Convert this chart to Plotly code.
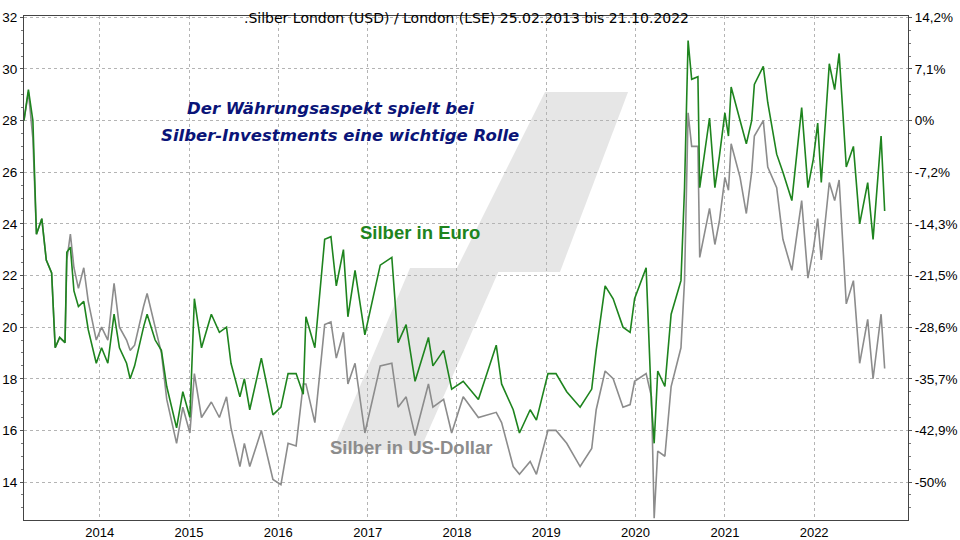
import plotly.graph_objects as go
import pandas as pd

jahre = [2013.15, 2013.20, 2013.25, 2013.29, 2013.35, 2013.40, 2013.46, 2013.50, 2013.55, 2013.61,
         2013.63, 2013.67, 2013.71, 2013.76, 2013.82, 2013.87, 2013.96, 2014.02, 2014.09, 2014.16,
         2014.22, 2014.30, 2014.34, 2014.39, 2014.49, 2014.53, 2014.62, 2014.69, 2014.75, 2014.86,
         2014.93, 2015.01, 2015.06, 2015.14, 2015.25, 2015.34, 2015.42, 2015.47, 2015.57, 2015.62,
         2015.68, 2015.81, 2015.94, 2016.03, 2016.11, 2016.20, 2016.28, 2016.31, 2016.41, 2016.52,
         2016.59, 2016.65, 2016.73, 2016.78, 2016.86, 2016.97, 2017.14, 2017.27, 2017.34, 2017.43,
         2017.53, 2017.68, 2017.73, 2017.85, 2017.94, 2018.07, 2018.24, 2018.44, 2018.50, 2018.63,
         2018.70, 2018.82, 2018.89, 2019.02, 2019.11, 2019.23, 2019.38, 2019.51, 2019.56, 2019.66,
         2019.75, 2019.86, 2019.94, 2019.99, 2020.12, 2020.18, 2020.21, 2020.25, 2020.33, 2020.40,
         2020.51, 2020.55, 2020.59, 2020.63, 2020.70, 2020.72, 2020.83, 2020.89, 2020.94, 2021.00,
         2021.04, 2021.07, 2021.17, 2021.24, 2021.30, 2021.33, 2021.43, 2021.48, 2021.58, 2021.65,
         2021.75, 2021.86, 2021.93, 2021.99, 2022.04, 2022.08, 2022.17, 2022.23, 2022.28, 2022.36,
         2022.44, 2022.51, 2022.60, 2022.66, 2022.75, 2022.79]

silber_euro = [28.0, 29.2, 28.0, 23.6, 24.2, 22.6, 22.1, 19.2, 19.6, 19.4,
               22.9, 23.1, 21.4, 20.8, 21.0, 19.9, 18.6, 19.2, 18.6, 20.5,
               19.2, 18.6, 18.0, 18.5, 20.0, 20.5, 19.5, 19.1, 17.7, 16.1,
               17.5, 16.5, 21.1, 19.2, 20.5, 19.8, 20.0, 18.6, 17.3, 18.0,
               16.8, 18.8, 16.6, 16.9, 18.2, 18.2, 17.4, 20.4, 19.2, 23.4,
               23.5, 21.6, 23.0, 20.4, 22.2, 19.7, 22.4, 22.7, 19.4, 20.1,
               17.9, 19.6, 18.5, 19.1, 17.6, 17.9, 17.2, 19.3, 17.8, 16.8,
               15.9, 16.8, 16.4, 18.2, 18.2, 17.5, 16.9, 17.6, 19.1, 21.6,
               21.1, 20.0, 19.8, 21.1, 22.3, 17.0, 15.5, 18.3, 17.7, 20.5,
               21.8, 25.4, 31.1, 29.6, 29.7, 25.4, 28.1, 25.4, 26.6, 28.3,
               27.4, 29.3, 28.0, 27.1, 28.0, 29.4, 30.1, 28.7, 26.7, 26.0,
               24.9, 28.5, 25.4, 26.5, 27.9, 25.6, 30.2, 29.2, 30.6, 26.2,
               27.0, 24.0, 25.6, 23.4, 27.4, 24.5]

silber_usd = [28.0, 29.1, 27.3, 23.6, 24.2, 22.6, 22.1, 19.2, 19.6, 19.4,
              22.6, 23.6, 22.3, 21.5, 22.3, 21.0, 19.5, 20.0, 19.5, 21.7,
              20.0, 19.5, 19.1, 19.3, 20.8, 21.3, 20.0, 19.0, 17.2, 15.5,
              16.9, 15.9, 18.2, 16.5, 17.1, 16.5, 17.3, 16.1, 14.6, 15.5,
              14.6, 16.0, 14.1, 13.9, 15.5, 15.4, 17.8, 17.8, 16.3, 20.1,
              20.2, 18.8, 19.8, 17.8, 18.6, 15.9, 18.5, 18.6, 16.9, 17.3,
              15.8, 17.8, 16.9, 17.2, 15.9, 17.3, 16.5, 16.7, 16.3, 14.6,
              14.3, 14.8, 14.3, 16.0, 16.0, 15.5, 14.6, 15.3, 16.8, 18.3,
              18.0, 16.9, 17.0, 17.9, 18.2, 17.3, 12.6, 15.2, 15.0, 17.7,
              19.2, 21.8, 28.3, 27.0, 27.0, 22.7, 24.6, 23.2, 24.1, 25.8,
              25.3, 27.1, 25.8, 24.4, 26.0, 27.4, 28.0, 26.2, 25.4, 23.4,
              22.2, 24.9, 21.9, 23.0, 24.2, 22.6, 25.6, 24.9, 25.7, 20.9,
              21.8, 18.6, 20.3, 18.0, 20.5, 18.4]

# linke Achse und zugehörige Prozentwerte rechts (Basis 28)
links_ticks = [14, 16, 18, 20, 22, 24, 26, 28, 30, 32]
rechts_labels = ["-50%", "-42,9%", "-35,7%", "-28,6%", "-21,5%", "-14,3%", "-7,2%", "0%", "7,1%", "14,2%"]
jahr_ticks = ["2014-01-01", "2015-01-01", "2016-01-01", "2017-01-01", "2018-01-01",
              "2019-01-01", "2020-01-01", "2021-01-01", "2022-01-01"]
jahr_labels = ["2014", "2015", "2016", "2017", "2018", "2019", "2020", "2021", "2022"]


def jahr_zu_datum(j):
    jahr = int(j)
    start = pd.Timestamp(year=jahr, month=1, day=1)
    return start + pd.Timedelta(days=(j - jahr) * 365.25)


datum = [jahr_zu_datum(j) for j in jahre]

W, H = 960, 540
L, R, T, B = 24, 52, 16, 20


def px(x, y):
    # Pixel -> Paper-Koordinaten
    return (x - L) / (W - L - R), 1 - (y - T) / (H - T - B)


def pfad(punkte):
    teile = []
    for i, (x, y) in enumerate(punkte):
        a, b = px(x, y)
        teile.append(("M" if i == 0 else "L") + f"{a:.4f},{b:.4f}")
    return " ".join(teile) + " Z"


fig = go.Figure()

fig.add_trace(go.Scatter(x=datum, y=silber_usd, mode="lines",
                         line=dict(color="#8c8c8c", width=1.6), showlegend=False))
fig.add_trace(go.Scatter(x=datum, y=silber_euro, mode="lines",
                         line=dict(color="#1e841e", width=1.6), showlegend=False))
# unsichtbare Spur für die rechte Achse
fig.add_trace(go.Scatter(x=[datum[0]], y=[28], yaxis="y2", mode="markers",
                         marker=dict(opacity=0), showlegend=False, hoverinfo="skip"))

yr = [12.53, 32.05]
gitter = dict(showgrid=True, gridcolor="#b4b4b4", griddash="dot", gridwidth=1)
tickfont = dict(size=13.5, family="Liberation Sans, Arial")

fig.update_layout(
    width=W, height=H,
    margin=dict(l=L, r=R, t=T, b=B, autoexpand=False),
    plot_bgcolor="white", paper_bgcolor="white",
    font=dict(family="Liberation Sans, Arial", size=12, color="black"),
    xaxis=dict(range=["2013-02-25", "2023-01-20"], tickvals=jahr_ticks, ticktext=jahr_labels,
               showline=True, linecolor="#444", mirror=True, automargin=False,
               ticks="", tickfont=dict(size=13, family="Liberation Sans, Arial"), **gitter),
    yaxis=dict(range=yr, tickvals=links_ticks, showline=True, linecolor="#444",
               ticks="outside", ticklen=3, tickcolor="#555", automargin=False,
               tickfont=tickfont,
               minor=dict(dtick=0.5, ticks="outside", ticklen=2, tickcolor="#777"),
               zeroline=False, **gitter),
    yaxis2=dict(range=yr, overlaying="y", side="right", tickvals=links_ticks,
                ticktext=rechts_labels, showline=True, linecolor="#444",
                ticks="outside", ticklen=3, tickcolor="#555", automargin=False,
                tickfont=tickfont,
                minor=dict(dtick=0.5, ticks="outside", ticklen=2, tickcolor="#777"),
                showgrid=False, zeroline=False),
    shapes=[
        dict(type="path", xref="paper", yref="paper", layer="below", line_width=0,
             fillcolor="#e6e6e6",
             path=pfad([(333, 450), (420, 450), (500, 268), (410, 268)])),
        dict(type="path", xref="paper", yref="paper", layer="below", line_width=0,
             fillcolor="#e6e6e6",
             path=pfad([(455, 272), (560, 272), (628, 92), (545, 92)])),
    ],
)

anm = [
    (".Silber London (USD) / London (LSE) 25.02.2013 bis 21.10.2022", 466, 8, 14, "black", False),
    ("Der Währungsaspekt spielt bei", 330, 97, 16.5, "#0a1478", True),
    ("Silber-Investments eine wichtige Rolle", 340, 124, 16.5, "#0a1478", True),
]
for text, x, y, s, c, kursiv in anm:
    a, b = px(x, y)
    fig.add_annotation(x=a, y=b, xref="paper", yref="paper", showarrow=False,
                       text=f"<b><i>{text}</i></b>" if kursiv else text,
                       font=dict(size=s, color=c, family="DejaVu Sans"))

for text, x, y, c in [("Silber in Euro", 420, 232, "#1e841e"), ("Silber in US-Dollar", 411, 460, "#8c8c8c")]:
    a, b = px(x, y)
    fig.add_annotation(x=a, y=b, xref="paper", yref="paper", showarrow=False,
                       text=f"<b>{text}</b>", font=dict(size=18.5, color=c, family="Liberation Sans, Arial"))

# Body-Rand entfernen, damit die Grafik genau das Fenster füllt
fig.write_html("out.html", config={"displayModeBar": False},
               post_script="document.body.style.margin='0';")
